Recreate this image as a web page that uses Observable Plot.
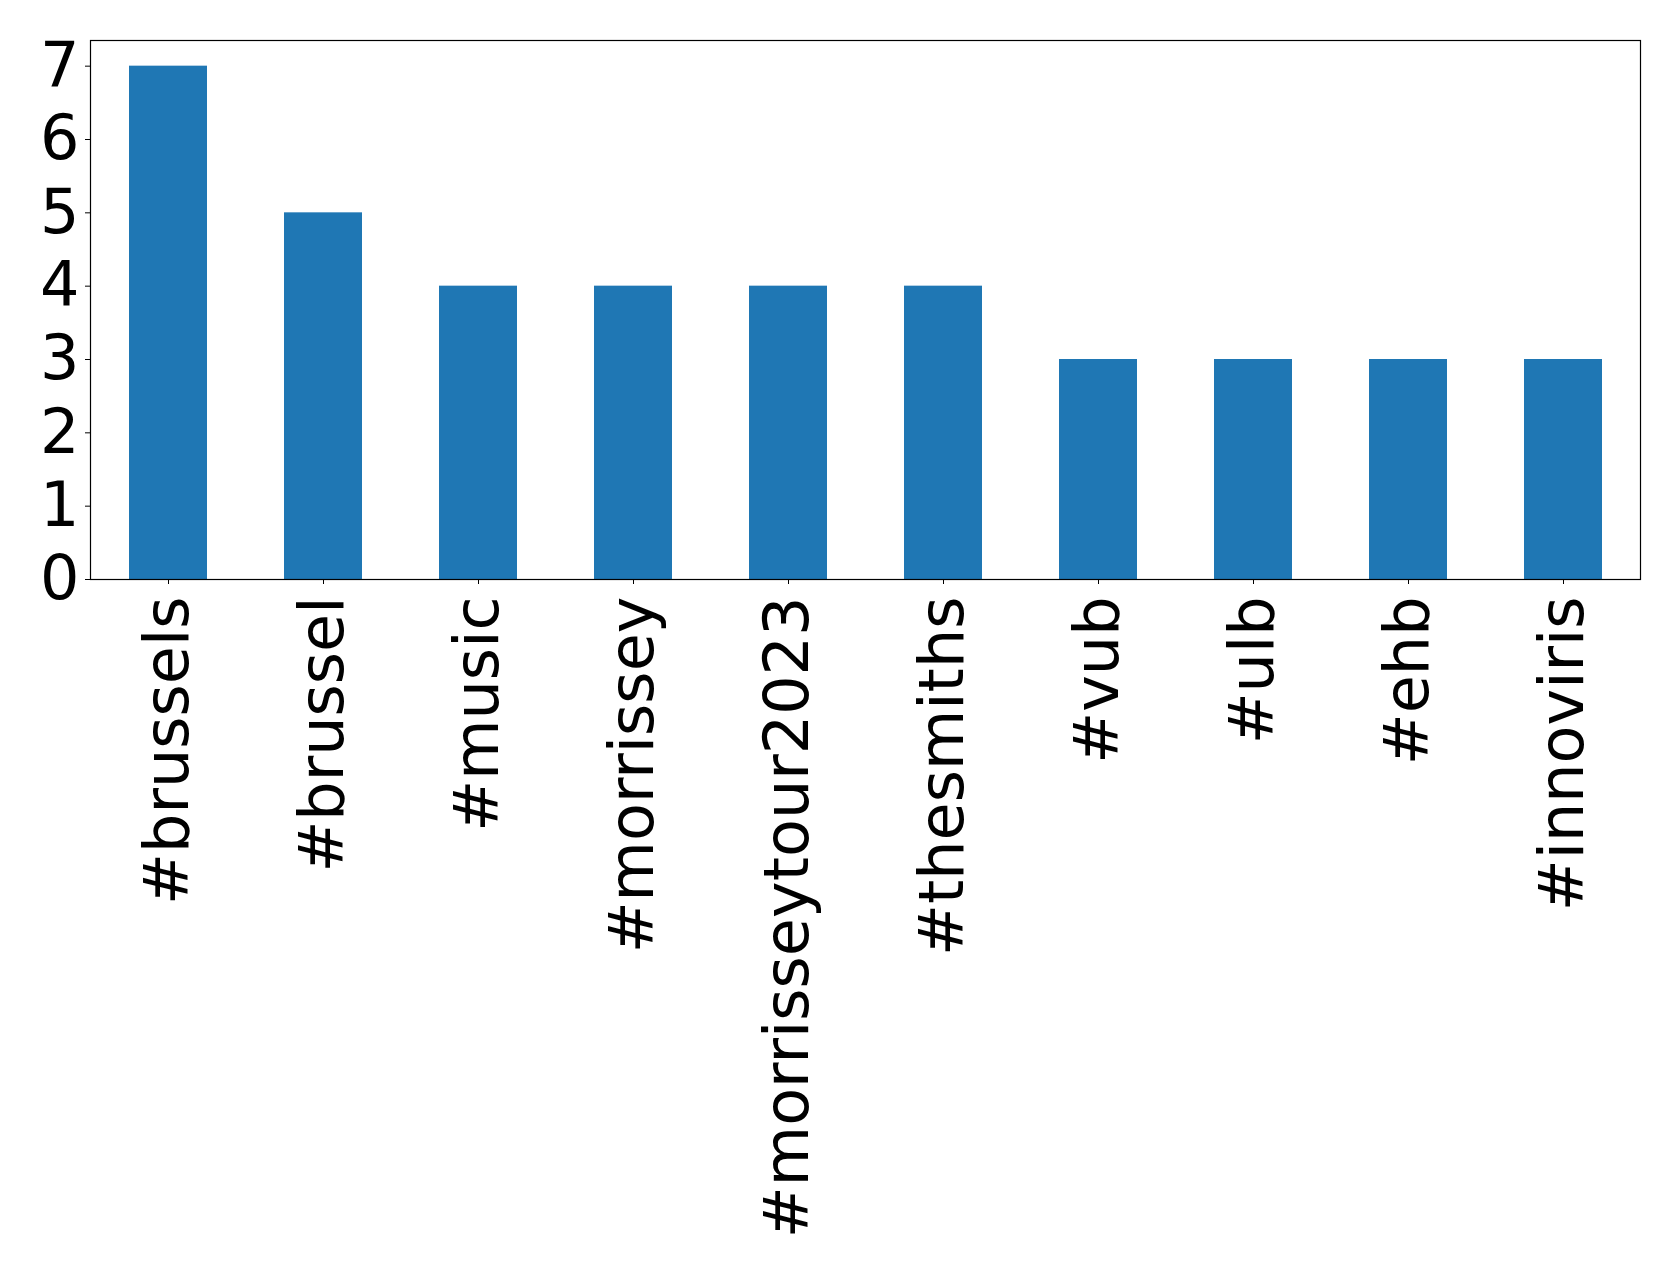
<!DOCTYPE html>
<html>
<head>
<meta charset="utf-8">
<script src="https://cdn.jsdelivr.net/npm/d3@7"></script>
<script src="https://cdn.jsdelivr.net/npm/@observablehq/plot@0.6"></script>
<style>
  html, body { margin: 0; padding: 0; background: #fff; }
</style>
</head>
<body>
<div id="chart"></div>
<script>
const hashtags = ["#brussels", "#brussel", "#music", "#morrissey", "#morrisseytour2023", "#thesmiths", "#vub", "#ulb", "#ehb", "#innoviris"];
const counts = [7, 5, 4, 4, 4, 4, 3, 3, 3, 3];
const yTicks = [0, 1, 2, 3, 4, 5, 6, 7];

const data = hashtags.map((h, i) => ({tag: h, count: counts[i]}));

const chart = Plot.plot({
  width: 1679,
  height: 1275,
  marginLeft: 90,
  marginRight: 39,
  marginTop: 40,
  marginBottom: 696,
  style: {fontFamily: "DejaVu Sans", fontSize: "62px", color: "#000", background: "#fff"},
  x: {domain: hashtags, paddingInner: 0.5, paddingOuter: 0.25, label: null},
  y: {domain: [0, 7.35], label: null},
  marks: [
    Plot.barY(data, {x: "tag", y: "count", fill: "#1f77b4"}),
    Plot.frame({stroke: "#000", strokeWidth: 1.2}),
    Plot.axisY({ticks: yTicks, tickSize: 5, tickPadding: 6, label: null, tickFormat: d => String(d), fontSize: 62}),
    Plot.axisX({tickSize: 5, tickPadding: 12, tickRotate: -90, label: null, fontSize: 62})
  ]
});
document.getElementById("chart").appendChild(chart);
</script>
</body>
</html>
